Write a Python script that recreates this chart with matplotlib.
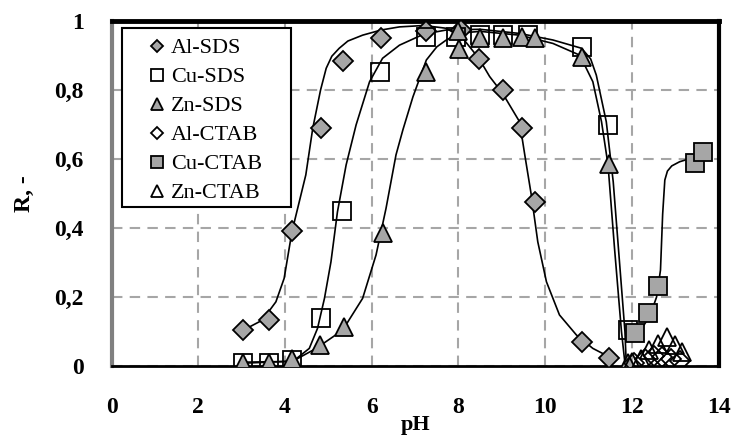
import matplotlib
matplotlib.use("Agg")
import matplotlib.pyplot as plt
from matplotlib.patches import Rectangle
from matplotlib.ticker import FixedLocator, FuncFormatter

# Datos experimentales: recuperacion R frente al pH
ph_al_sds = [3.04, 3.64, 4.17, 4.82, 5.33, 6.22, 7.26, 8.05, 8.47, 9.02, 9.46, 9.76, 10.84, 11.47]
r_al_sds = [0.104, 0.133, 0.39, 0.69, 0.884, 0.95, 0.97, 0.975, 0.89, 0.80, 0.69, 0.475, 0.07, 0.022]

ph_cu_sds = [3.03, 3.64, 4.17, 4.82, 5.32, 6.2, 7.26, 7.95, 8.5, 9.03, 9.6, 10.84, 11.45, 11.9]
r_cu_sds = [0.01, 0.01, 0.017, 0.14, 0.45, 0.852, 0.953, 0.955, 0.96, 0.96, 0.96, 0.925, 0.70, 0.105]

ph_zn_sds = [3.03, 3.64, 4.17, 4.8, 5.37, 6.25, 7.26, 7.98, 8.02, 8.49, 9.03, 9.46, 9.76, 10.84, 11.47, 11.9]
r_zn_sds = [0.01, 0.01, 0.02, 0.06, 0.113, 0.385, 0.852, 0.97, 0.92, 0.95, 0.95, 0.953, 0.95, 0.895, 0.585, 0.01]

ph_al_ctab = [12.05, 12.3, 12.5, 12.7, 12.9, 13.1]
r_al_ctab = [0.01, 0.02, 0.03, 0.025, 0.02, 0.015]

ph_cu_ctab = [12.07, 12.37, 12.6, 13.45, 13.65]
r_cu_ctab = [0.095, 0.153, 0.232, 0.588, 0.62]

ph_zn_ctab = [12.0, 12.2, 12.4, 12.6, 12.8, 13.0, 13.15]
r_zn_ctab = [0.012, 0.02, 0.045, 0.065, 0.085, 0.06, 0.04]

# Curvas de ajuste
fit_al_ph = [3.04, 3.48, 3.79, 3.98, 4.16, 4.48, 4.64, 4.82, 4.95, 5.08, 5.25, 5.45, 5.79, 6.22, 6.64, 7.2,
             7.72, 8.1, 8.47, 8.72, 9.02, 9.41, 9.53, 9.68, 9.83, 10.03, 10.33, 10.72, 11.1, 11.47]
fit_al_r = [0.104, 0.133, 0.186, 0.254, 0.389, 0.554, 0.689, 0.80, 0.863, 0.898, 0.921, 0.942, 0.959, 0.974,
            0.983, 0.987, 0.979, 0.95, 0.892, 0.839, 0.79, 0.708, 0.612, 0.496, 0.36, 0.244, 0.148, 0.09,
            0.051, 0.027]

fit_cu_ph = [3.02, 4.0, 4.25, 4.56, 4.75, 4.91, 5.06, 5.21, 5.41, 5.64, 5.95, 6.25, 6.64, 7.2, 7.72,
             8.5, 9.41, 10.18, 10.84, 11.05, 11.18, 11.41, 11.57, 11.72, 11.84, 11.87]
fit_cu_r = [0.011, 0.013, 0.02, 0.051, 0.109, 0.196, 0.302, 0.447, 0.583, 0.699, 0.824, 0.892, 0.93, 0.962,
            0.974, 0.976, 0.964, 0.945, 0.921, 0.89, 0.843, 0.708, 0.534, 0.293, 0.10, 0.008]

fit_zn_ph = [3.02, 4.18, 4.72, 5.33, 5.79, 6.1, 6.33, 6.56, 6.72, 6.95, 7.26, 7.5, 7.72, 8.03, 8.5,
             9.41, 10.18, 10.8, 11.1, 11.3, 11.45, 11.6, 11.76, 11.84]
fit_zn_r = [0.008, 0.014, 0.051, 0.104, 0.196, 0.322, 0.457, 0.612, 0.685, 0.78, 0.887, 0.925, 0.945, 0.965,
            0.97, 0.959, 0.935, 0.901, 0.824, 0.708, 0.583, 0.341, 0.10, 0.008]

fit_cuctab_ph = [12.07, 12.41, 12.57, 12.66, 12.71, 12.76, 12.82, 12.92, 13.1, 13.57, 13.7]
fit_cuctab_r = [0.08, 0.143, 0.2, 0.278, 0.44, 0.539, 0.565, 0.58, 0.592, 0.61, 0.625]

x_ticks = [0, 2, 4, 6, 8, 10, 12, 14]
y_ticks = [0, 0.2, 0.4, 0.6, 0.8, 1.0]

gris = '#a6a6a6'
fuente = 'Liberation Serif'

fig = plt.figure(figsize=(7.34, 4.38), dpi=100)
ax = fig.add_axes([0.152, 0.1644, 0.827, 0.7876])

# lineas de ajuste
for xs, ys in [(fit_al_ph, fit_al_r), (fit_cu_ph, fit_cu_r), (fit_zn_ph, fit_zn_r),
               (fit_cuctab_ph, fit_cuctab_r)]:
    ax.plot(xs, ys, color='black', lw=1.2, zorder=3, solid_joinstyle='round')

# puntos experimentales
ax.plot(ph_al_sds, r_al_sds, 'D', ms=10, mfc=gris, mec='black', mew=1.3, ls='none', label='Al-SDS', zorder=4)
ax.plot(ph_cu_sds, r_cu_sds, 's', ms=13, mfc='none', mec='black', mew=1.3, ls='none', label='Cu-SDS', zorder=4)
ax.plot(ph_zn_sds, r_zn_sds, '^', ms=13, mfc=gris, mec='black', mew=1.3, ls='none', label='Zn-SDS', zorder=4)
ax.plot(ph_al_ctab, r_al_ctab, 'D', ms=10, mfc='none', mec='black', mew=1.3, ls='none', label='Al-CTAB', zorder=4)
ax.plot(ph_cu_ctab, r_cu_ctab, 's', ms=13, mfc=gris, mec='black', mew=1.3, ls='none', label='Cu-CTAB', zorder=4)
ax.plot(ph_zn_ctab, r_zn_ctab, '^', ms=13, mfc='none', mec='black', mew=1.3, ls='none', label='Zn-CTAB', zorder=4)

ax.set_xlim(0, 14)
ax.set_ylim(0, 1)
ax.xaxis.set_major_locator(FixedLocator(x_ticks))
ax.yaxis.set_major_locator(FixedLocator(y_ticks))
ax.yaxis.set_major_formatter(FuncFormatter(lambda v, p: ('%g' % round(v, 1)).replace('.', ',')))
ax.tick_params(length=0, labelsize=17)
ax.tick_params(axis='x', pad=22)
ax.tick_params(axis='y', pad=20)
for lab in ax.get_xticklabels() + ax.get_yticklabels():
    lab.set_fontfamily(fuente)
    lab.set_fontweight('bold')

ax.grid(True, color='#a6a6a6', ls=(0, (5, 3.5)), lw=1.5)
ax.set_axisbelow(True)

ax.spines['top'].set_linewidth(3.5)
ax.spines['right'].set_linewidth(3)
ax.spines['bottom'].set_linewidth(2)
ax.spines['left'].set_linewidth(3)
ax.spines['left'].set_color('#808080')

ax.set_xlabel('pH', fontfamily=fuente, fontweight='bold', fontsize=16, labelpad=-2)
ax.set_ylabel('R, -', fontfamily=fuente, fontweight='bold', fontsize=17, labelpad=14)

# recuadro de la leyenda
ax.add_patch(Rectangle((0.0173, 0.461), 0.279, 0.519, transform=ax.transAxes,
                       facecolor='white', edgecolor='black', lw=1.5, zorder=5))
leg = ax.legend(loc='upper left', bbox_to_anchor=(0.0173, 1.022), borderaxespad=0,
                prop={'family': fuente, 'size': 16}, frameon=False,
                labelspacing=0.38, handlelength=0.9, handletextpad=0.2, borderpad=1.1,
                markerscale=0.65)
leg.set_zorder(6)

fig.savefig('out.png', dpi=100)
